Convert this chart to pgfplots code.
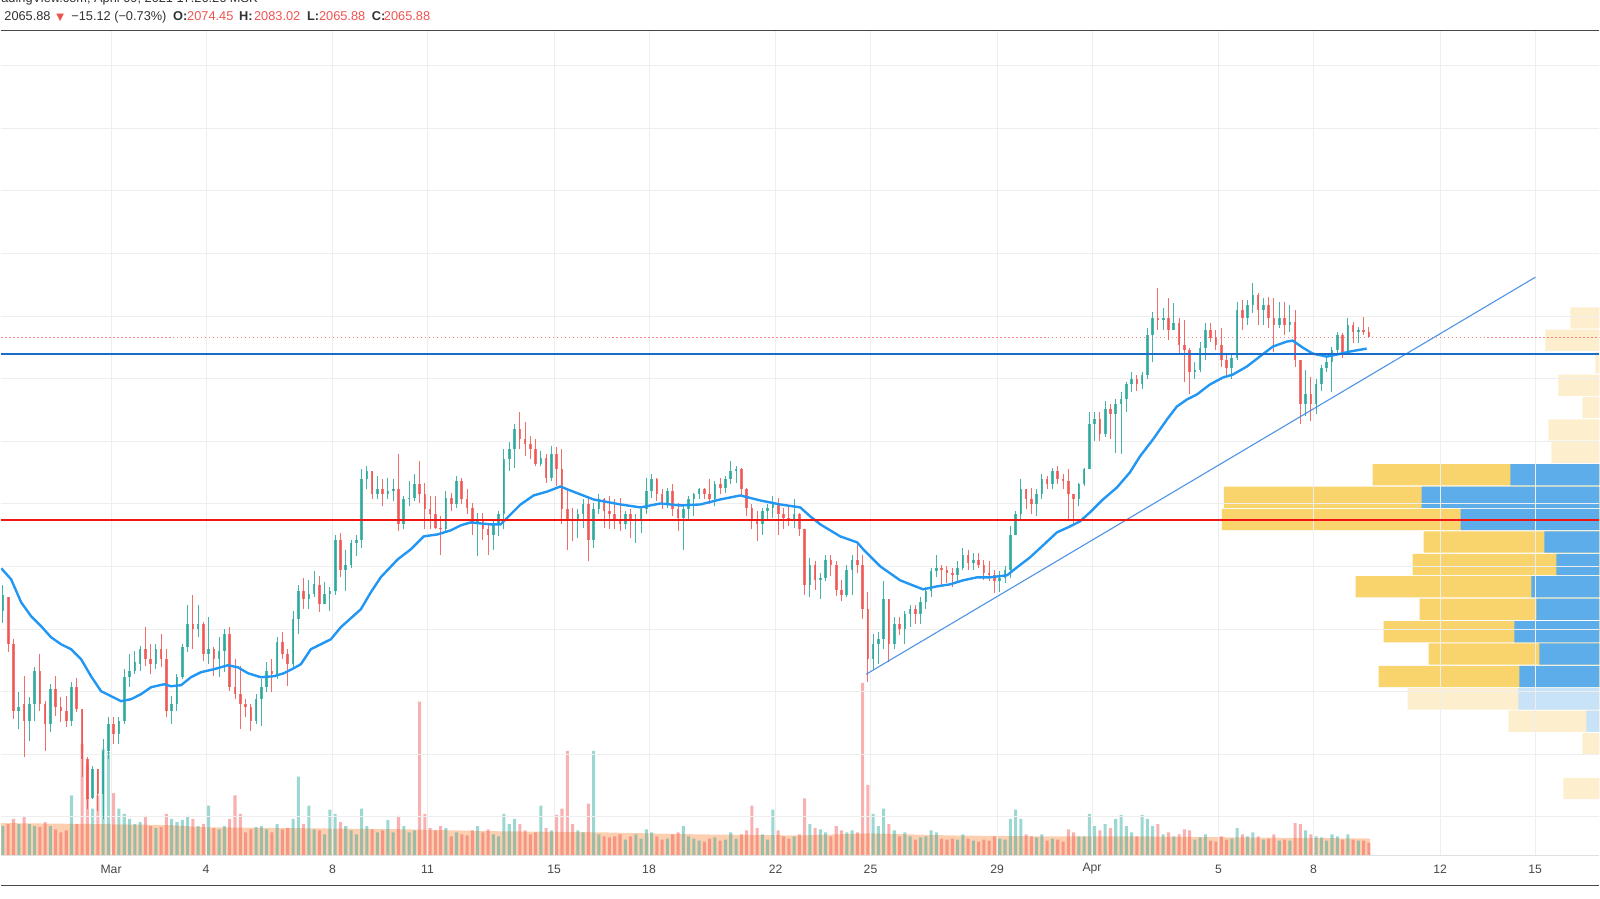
\documentclass[border=0pt]{standalone}
\usepackage{pgfplots}
\pgfplotsset{compat=1.18}
\usepackage{pgfplotstable}
\usepackage{fontspec}
\setmainfont{Liberation Sans}
\newfontfamily\symfont{DejaVu Sans}

\definecolor{upcol}{RGB}{38,166,154}
\definecolor{dncol}{RGB}{239,83,80}
\definecolor{macol}{RGB}{33,150,243}
\definecolor{hblue}{RGB}{25,110,205}
\definecolor{hred}{RGB}{240,22,22}
\definecolor{trendcol}{RGB}{60,135,230}
\definecolor{vpyel}{RGB}{249,211,107}
\definecolor{vpblue}{RGB}{93,173,234}
\definecolor{vpyelp}{RGB}{253,239,206}
\definecolor{vpbluep}{RGB}{200,227,247}
\definecolor{volma}{RGB}{253,202,168}
\definecolor{gridcol}{RGB}{238,238,238}
\definecolor{txtdark}{RGB}{50,50,50}
\definecolor{labcol}{RGB}{70,70,70}

% 4-hour candles: t = hours since 1 Mar 00:00, o h l c price, v volume
\pgfplotstableread{
t o h l c v
-82 1628 1670 1609 1654 28
-78 1651 1651 1564 1576 30
-74 1576 1584 1456 1469 35
-70 1469 1499 1440 1475 30
-66 1480 1525 1395 1453 38
-62 1453 1491 1421 1480 30
-58 1480 1539 1453 1533 28
-54 1533 1560 1469 1480 27
-50 1480 1485 1405 1448 32
-46 1448 1512 1435 1504 28
-42 1504 1525 1461 1475 25
-38 1475 1491 1451 1469 22
-34 1469 1493 1443 1453 24
-30 1453 1515 1445 1507 58
-26 1507 1521 1467 1472 30
-22 1472 1472 1363 1392 108
-18 1392 1395 1312 1328 88
-14 1330 1381 1328 1376 45
-10 1376 1376 1309 1336 58
-6 1336 1424 1296 1405 103
-2 1405 1459 1392 1448 100
2 1448 1459 1416 1432 60
6 1432 1459 1416 1453 45
10 1453 1536 1448 1523 40
14 1523 1560 1507 1533 35
18 1533 1565 1528 1547 30
22 1544 1573 1533 1568 32
26 1568 1603 1541 1552 38
30 1552 1576 1528 1544 28
34 1544 1576 1536 1568 26
38 1568 1592 1539 1552 27
42 1552 1568 1459 1469 40
46 1469 1493 1448 1480 35
50 1480 1528 1469 1523 32
54 1523 1576 1520 1571 34
58 1571 1639 1564 1608 38
62 1608 1655 1568 1600 35
66 1600 1639 1587 1608 28
70 1608 1612 1549 1560 30
74 1560 1620 1544 1568 48
78 1568 1571 1525 1552 26
82 1552 1587 1523 1565 25
86 1565 1600 1531 1592 28
90 1592 1603 1501 1507 35
94 1507 1552 1488 1496 58
98 1496 1541 1440 1480 40
102 1480 1488 1459 1475 22
106 1475 1480 1437 1453 25
110 1453 1496 1448 1488 27
114 1488 1520 1445 1507 28
118 1507 1547 1499 1533 25
122 1533 1552 1499 1528 22
126 1528 1588 1520 1580 30
130 1580 1596 1552 1560 25
134 1560 1568 1509 1544 26
138 1544 1628 1536 1616 35
142 1616 1671 1592 1660 76
146 1660 1682 1632 1648 30
150 1648 1679 1632 1656 48
154 1656 1692 1651 1672 25
158 1671 1684 1627 1640 24
162 1640 1675 1640 1656 20
166 1656 1667 1628 1660 44
170 1660 1751 1655 1743 40
174 1743 1754 1683 1695 32
178 1695 1727 1660 1703 28
182 1703 1743 1698 1738 24
186 1738 1751 1717 1743 20
190 1743 1855 1730 1839 45
194 1839 1860 1823 1852 28
198 1852 1852 1807 1815 25
202 1815 1844 1807 1823 22
206 1823 1839 1796 1815 24
210 1815 1842 1807 1820 34
214 1820 1839 1804 1823 22
218 1823 1879 1756 1767 38
222 1767 1812 1759 1807 28
226 1807 1836 1796 1810 22
230 1810 1847 1804 1831 24
234 1831 1868 1802 1815 149
238 1815 1834 1759 1791 40
242 1791 1812 1759 1783 26
246 1783 1812 1759 1762 24
250 1762 1780 1718 1759 28
254 1759 1820 1756 1810 26
258 1810 1818 1788 1799 18
262 1799 1844 1794 1836 22
266 1836 1842 1799 1807 20
270 1807 1823 1783 1794 19
274 1794 1802 1751 1767 24
278 1767 1786 1716 1775 28
282 1775 1786 1743 1759 22
286 1759 1767 1718 1751 25
290 1751 1772 1727 1767 20
294 1767 1788 1748 1783 18
298 1783 1887 1759 1871 40
302 1871 1898 1852 1887 30
306 1887 1927 1858 1919 35
310 1919 1946 1887 1903 30
314 1903 1930 1877 1895 24
318 1895 1908 1871 1887 20
322 1887 1903 1860 1863 22
326 1863 1884 1860 1874 48
330 1874 1879 1834 1842 26
334 1842 1892 1836 1879 24
338 1879 1890 1828 1855 39
342 1855 1887 1767 1791 45
346 1791 1823 1727 1775 101
350 1775 1794 1740 1772 30
354 1772 1791 1746 1783 24
358 1783 1807 1762 1799 22
362 1799 1807 1708 1743 50
366 1743 1802 1730 1791 101
370 1791 1815 1783 1807 20
374 1807 1810 1762 1788 18
378 1788 1812 1759 1783 17
382 1783 1807 1759 1775 18
386 1775 1810 1756 1767 20
390 1767 1788 1759 1783 15
394 1783 1791 1746 1772 18
398 1772 1783 1738 1775 20
402 1775 1794 1754 1791 16
406 1791 1842 1783 1820 25
410 1820 1847 1810 1839 22
414 1839 1842 1804 1815 18
418 1815 1823 1791 1802 15
422 1802 1826 1794 1820 16
426 1820 1831 1780 1791 20
430 1791 1802 1756 1778 22
434 1778 1797 1727 1791 28
438 1791 1812 1772 1807 18
442 1807 1818 1780 1815 16
446 1815 1826 1807 1823 14
450 1823 1826 1807 1815 13
454 1815 1839 1799 1807 16
458 1807 1836 1796 1831 17
462 1831 1842 1815 1826 14
466 1826 1844 1818 1839 15
470 1839 1868 1831 1852 22
474 1852 1861 1834 1855 16
478 1855 1858 1812 1823 20
482 1823 1826 1780 1794 24
486 1794 1799 1759 1775 48
490 1775 1788 1740 1767 26
494 1767 1794 1751 1788 20
498 1788 1799 1772 1794 15
502 1794 1812 1778 1799 44
506 1799 1810 1751 1783 24
510 1783 1794 1759 1778 18
514 1778 1796 1764 1775 16
518 1775 1807 1762 1783 18
522 1783 1786 1748 1759 20
526 1759 1759 1655 1671 55
530 1671 1714 1651 1703 30
534 1703 1708 1663 1679 26
538 1679 1690 1648 1682 25
542 1682 1719 1676 1711 22
546 1711 1719 1684 1703 18
550 1703 1708 1652 1663 28
554 1663 1679 1644 1655 24
558 1655 1703 1651 1695 22
562 1695 1719 1655 1711 24
566 1711 1738 1690 1703 22
570 1703 1719 1616 1632 167
574 1632 1659 1515 1552 68
578 1552 1592 1536 1576 40
582 1576 1595 1544 1584 28
586 1584 1676 1568 1648 45
590 1648 1648 1547 1576 30
594 1576 1619 1568 1608 24
598 1608 1619 1590 1600 18
602 1600 1628 1576 1624 22
606 1624 1638 1603 1632 18
610 1632 1638 1608 1624 15
614 1624 1651 1608 1643 17
618 1643 1667 1632 1660 18
622 1660 1698 1651 1692 24
626 1692 1718 1683 1698 22
630 1698 1703 1671 1695 16
634 1695 1700 1674 1690 15
638 1690 1698 1667 1687 16
642 1687 1708 1674 1698 15
646 1698 1729 1695 1719 20
650 1719 1727 1695 1706 16
654 1706 1722 1695 1711 14
658 1711 1722 1698 1703 13
662 1703 1711 1679 1690 15
666 1690 1708 1676 1687 14
670 1687 1695 1657 1676 18
674 1676 1692 1659 1682 16
678 1682 1700 1674 1695 15
682 1695 1764 1682 1751 35
686 1751 1788 1751 1783 44
690 1783 1839 1772 1823 35
694 1823 1823 1791 1807 20
698 1807 1826 1783 1799 18
702 1799 1823 1780 1815 17
706 1815 1847 1807 1839 20
710 1839 1845 1823 1831 14
714 1831 1858 1823 1852 16
718 1852 1860 1831 1839 15
722 1839 1847 1823 1836 13
726 1836 1855 1772 1815 25
730 1815 1815 1767 1807 22
734 1807 1834 1796 1831 18
738 1831 1858 1828 1855 18
742 1855 1946 1855 1927 40
746 1927 1946 1900 1935 28
750 1935 1946 1900 1911 24
754 1911 1964 1906 1951 30
758 1951 1959 1903 1943 26
762 1943 1967 1882 1959 35
766 1959 1979 1879 1967 39
770 1967 1994 1947 1991 28
774 1991 2010 1978 1999 22
778 1999 2006 1980 1991 18
782 1991 2011 1983 2006 39
786 2006 2081 1999 2070 35
790 2070 2107 2027 2097 28
794 2097 2145 2078 2094 30
798 2094 2113 2078 2097 20
802 2097 2129 2062 2078 22
806 2078 2121 2078 2089 18
810 2089 2097 2038 2054 20
814 2054 2094 1994 2046 25
818 2046 2049 1975 2011 24
822 2011 2027 1999 2014 15
826 2014 2059 2010 2049 17
830 2049 2089 2030 2078 20
834 2078 2089 2059 2065 14
838 2065 2078 2046 2054 13
842 2054 2081 2019 2030 18
846 2030 2038 2006 2017 15
850 2017 2038 1999 2033 16
854 2033 2123 2030 2110 26
858 2110 2126 2078 2097 20
862 2097 2126 2086 2118 18
866 2118 2153 2105 2134 22
870 2134 2137 2086 2110 18
874 2110 2129 2086 2118 15
878 2118 2131 2081 2097 16
882 2097 2129 2043 2086 20
886 2086 2123 2081 2097 14
890 2097 2123 2070 2086 15
894 2086 2118 2075 2091 14
898 2091 2110 2019 2030 31
902 2030 2030 1927 1959 30
906 1959 2014 1940 1975 24
910 1975 2002 1932 1959 20
914 1959 1999 1943 1991 18
918 1991 2022 1980 2017 17
922 2017 2035 2011 2027 14
926 2027 2051 1978 2046 20
930 2046 2075 2038 2070 18
934 2070 2073 2033 2043 15
938 2043 2097 2038 2086 20
942 2086 2091 2057 2075 15
946 2075 2083 2057 2078 14
950 2078 2099 2070 2075 14
954 2074.45 2083.02 2065.88 2065.88 12
}\candles

% moving average of price
\pgfplotstableread{
t p
-83.3 1697.0
-75.8 1679.4
-68.2 1642.7
-60.6 1620.3
-53.0 1604.4
-45.5 1586.8
-37.9 1575.6
-30.3 1567.7
-22.7 1551.7
-15.2 1524.6
-7.6 1500.7
0.0 1492.7
7.6 1484.7
15.2 1487.9
22.7 1495.9
30.3 1507.0
40.2 1511.8
45.5 1508.6
53.0 1510.2
60.6 1523.0
68.2 1531.0
78.0 1535.8
88.6 1542.1
96.2 1538.9
103.8 1529.4
113.6 1523.0
123.5 1524.6
131.1 1529.4
138.6 1537.4
143.9 1543.7
151.5 1567.7
166.7 1583.6
174.2 1602.8
189.4 1631.5
197.0 1658.6
204.5 1682.6
217.4 1711.3
227.3 1727.3
237.1 1748.0
247.7 1751.2
257.6 1757.6
265.2 1765.6
272.7 1770.3
280.3 1768.7
287.9 1767.2
295.5 1767.2
303.0 1783.1
310.6 1799.0
320.5 1813.4
331.1 1819.8
340.9 1827.8
346.2 1823.0
356.1 1815.0
365.9 1807.0
386.4 1799.0
401.5 1794.3
416.7 1800.6
431.8 1797.4
447.0 1799.0
462.1 1807.0
477.3 1813.4
492.4 1805.4
507.6 1799.0
522.7 1794.3
530.3 1779.9
537.9 1767.2
553.0 1748.0
565.9 1738.4
570.5 1727.3
583.3 1700.2
598.5 1677.8
606.1 1671.4
615.9 1663.4
626.5 1668.2
636.4 1671.4
646.2 1677.8
656.8 1682.6
666.7 1682.6
679.5 1685.8
687.1 1698.5
697.0 1714.5
706.8 1733.6
717.4 1754.4
727.3 1763.9
734.8 1771.9
742.4 1786.3
752.3 1807.0
762.9 1826.2
772.7 1850.1
780.3 1875.6
790.2 1902.8
800.8 1934.7
808.3 1955.4
815.9 1966.6
823.5 1974.6
833.3 1990.5
843.2 2001.7
850.8 2006.5
861.4 2019.3
871.2 2035.2
881.1 2051.2
891.7 2059.2
896.2 2060.8
903.8 2049.6
911.4 2040.0
922.0 2035.2
929.5 2038.4
939.4 2043.2
952.3 2048.0
}\maline

% moving average of volume
\pgfplotstableread{
t v
-83.3 31
-7.6 30
45.5 29
68.2 27
143.9 26
219.7 25
295.5 23
371.2 22
447.0 20
522.7 19
575.8 21
636.4 19
712.1 18
787.9 18
863.6 17
955.0 16
}\volmaline

\begin{document}
\begin{tikzpicture}[x=1pt,y=1pt]
\path (0,0) rectangle (1600,900);

% ---------- volume pane ----------
\begin{axis}[at={(0pt,44pt)}, anchor=south west, scale only axis,
  width=1600pt, height=825pt, hide axis,
  xmin=-83.33, xmax=1128.8, ymin=0, ymax=800]
\addplot[fill=volma, draw=none, fill opacity=0.9] table[x=t,y=v]{\volmaline} \closedcycle;
\addplot[ybar, bar width=2.3, bar shift=0pt, draw=none, fill=upcol, fill opacity=0.45,
  restrict expr to domain={\thisrow{c}-\thisrow{o}}{0:100000}] table[x=t,y=v]{\candles};
\addplot[ybar, bar width=2.3, bar shift=0pt, draw=none, fill=dncol, fill opacity=0.45,
  restrict expr to domain={\thisrow{c}-\thisrow{o}}{-100000:-0.001}] table[x=t,y=v]{\candles};
\end{axis}

% ---------- volume profile ----------
\begin{axis}[at={(0pt,44pt)}, anchor=south west, scale only axis,
  width=1600pt, height=825pt, hide axis,
  xmin=0, xmax=1600, x dir=reverse, ymin=1238.98, ymax=2555.43]
\addplot[xbar, bar width=34, bar shift=0pt, draw=none, fill=vpyel] coordinates {
 (227,1846.4) (376,1810.6) (378,1774.8) (176,1739.0) (187,1703.2)
 (244,1667.4) (180,1631.6) (216,1595.8) (171,1560.0) (221,1524.2)};
\addplot[xbar, bar width=34, bar shift=0pt, draw=none, fill=vpblue] coordinates {
 (89,1846.4) (178,1810.6) (139,1774.8) (55,1739.0) (43,1703.2)
 (68,1667.4) (63,1631.6) (85,1595.8) (60,1560.0) (80,1524.2)};
\addplot[xbar, bar width=34, bar shift=0pt, draw=none, fill=vpyelp] coordinates {
 (29,2097.0) (54,2061.2) (4,2025.4) (41,1989.6) (17,1953.8) (51,1918.0)
 (48,1882.2) (192,1488.4) (91,1452.6) (17,1416.8) (36,1345.2)};
\addplot[xbar, bar width=34, bar shift=0pt, draw=none, fill=vpbluep] coordinates {
 (81,1488.4) (13,1452.6)};
\end{axis}

% ---------- price pane ----------
\begin{axis}[at={(0pt,44pt)}, anchor=south west, scale only axis,
  width=1600pt, height=825pt,
  xmin=-83.33, xmax=1128.8, ymin=1238.98, ymax=2555.43,
  axis line style={draw=none},
  xtick={0,72,168,240,336,408,504,576,672,744,840,912,1008,1080},
  xticklabels={Mar,4,8,11,15,18,22,25,29,Apr,5,8,12,15},
  ytick={1300,1400,...,2500}, yticklabels={},
  yticklabel style={inner sep=0pt},
  xmajorgrids, ymajorgrids,
  grid style={draw=gridcol, line width=0.9pt},
  major tick length=0pt,
  xticklabel style={font=\fontsize{12.2}{14}\selectfont, text=labcol, anchor=center, yshift=-14pt}]

% wicks
\addplot[quiver={u=0, v={\thisrow{h}-\thisrow{l}}}, draw=upcol, line width=1pt, opacity=0.85,
  restrict expr to domain={\thisrow{c}-\thisrow{o}}{0:100000}] table[x=t,y=l]{\candles};
\addplot[quiver={u=0, v={\thisrow{h}-\thisrow{l}}}, draw=dncol, line width=1pt, opacity=0.85,
  restrict expr to domain={\thisrow{c}-\thisrow{o}}{-100000:-0.001}] table[x=t,y=l]{\candles};
% bodies
\addplot[quiver={u=0, v={max(\thisrow{c}-\thisrow{o},1.5)}}, draw=upcol, line width=2.6pt, opacity=0.8,
  restrict expr to domain={\thisrow{c}-\thisrow{o}}{0:100000}] table[x=t,y=o]{\candles};
\addplot[quiver={u=0, v={max(\thisrow{o}-\thisrow{c},1.5)}}, draw=dncol, line width=2.6pt, opacity=0.8,
  restrict expr to domain={\thisrow{c}-\thisrow{o}}{-100000:-0.001}] table[x=t,y=c]{\candles};

% moving average
\addplot[macol, line width=2.4pt, line join=round] table[x=t,y=p]{\maline};
% trend line
\addplot[trendcol, line width=1.1pt, opacity=0.9] coordinates {(572.7,1527.8) (1080.3,2162.1)};
% horizontal levels
\addplot[hblue, line width=2pt] coordinates {(-83.33,2040) (1128.8,2040)};
\addplot[hred, line width=2pt] coordinates {(-83.33,1773.5) (1128.8,1773.5)};
\addplot[dncol, line width=1pt, dash pattern=on 1.5pt off 2.5pt, opacity=0.7] coordinates {(-83.33,2065.88) (1128.8,2065.88)};
\end{axis}

% frame lines
\draw[black!72, line width=1.3pt] (0,869.3) -- (1600,869.3);
\draw[black!72, line width=1.3pt] (0,13.3) -- (1600,13.3);
\draw[black!12, line width=0.8pt] (0,43.6) -- (1600,43.6);

% header
\node[overlay, anchor=base east, font=\fontsize{12.8}{15}\selectfont, text=txtdark, inner sep=0pt] at (257,897) {TradingView.com, April 09, 2021 17:26:26 MSK};
\begin{scope}[every node/.style={anchor=base west, inner sep=0pt, font=\fontsize{12.8}{15}\selectfont}]
\node[text=txtdark] at (3,879.3) {2065.88};
\node[text=dncol] at (55,879.3) {\symfont\fontsize{10}{12}\selectfont ▼};
\node[text=txtdark] at (70,879.3) {−15.12};
\node[text=txtdark] at (113,879.3) {(−0.73\%)};
\node[text=txtdark] at (172,879.3) {\bfseries O:};
\node[text=dncol] at (186,879.3) {2074.45};
\node[text=txtdark] at (238,879.3) {\bfseries H:};
\node[text=dncol] at (253,879.3) {2083.02};
\node[text=txtdark] at (306,879.3) {\bfseries L:};
\node[text=dncol] at (318,879.3) {2065.88};
\node[text=txtdark] at (371,879.3) {\bfseries C:};
\node[text=dncol] at (383,879.3) {2065.88};
\end{scope}
\end{tikzpicture}
\end{document}
